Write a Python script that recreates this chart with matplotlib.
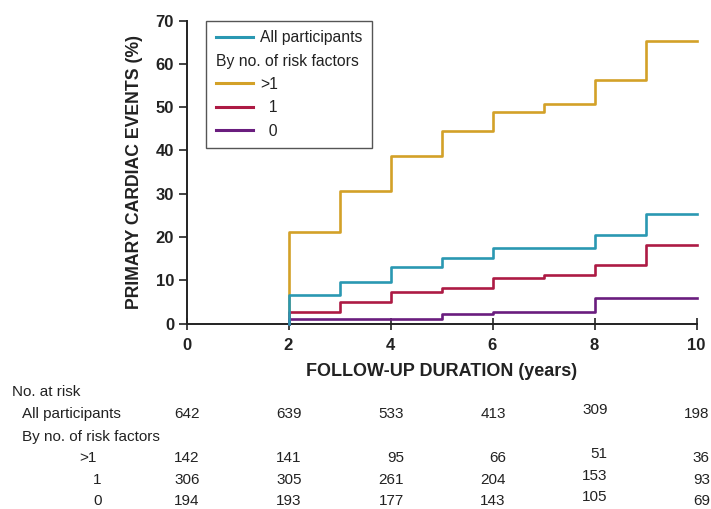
#!/usr/bin/env python
import matplotlib
matplotlib.use('Agg')
import matplotlib.pyplot as plt
from matplotlib.lines import Line2D
from matplotlib.transforms import blended_transform_factory

plt.rcParams['font.family'] = ['Liberation Sans', 'DejaVu Sans']

## Cumulative event curves (%), step at each year from 2 to 10
years = [2, 3, 4, 5, 6, 7, 8, 9, 10]
all_pct = [6.6, 9.5, 13.1, 15.2, 17.5, 17.5, 20.4, 25.3, 25.3]
gt1_pct = [21.2, 30.6, 38.7, 44.4, 48.8, 50.8, 56.2, 65.2, 65.2]
one_pct = [2.7, 5.0, 7.2, 8.2, 10.4, 11.3, 13.5, 18.2, 18.2]
zero_pct = [1.0, 1.0, 1.0, 2.2, 2.6, 2.6, 5.8, 5.8, 5.8]

## Numbers at risk table
risk_times = [0, 2, 4, 6, 8, 10]
risk_all = [642, 639, 533, 413, 309, 198]
risk_gt1 = [142, 141, 95, 66, 51, 36]
risk_one = [306, 305, 261, 204, 153, 93]
risk_zero = [194, 193, 177, 143, 105, 69]

c_all = '#2a98b2'
c_gt1 = '#d3a128'
c_one = '#ad1a44'
c_zero = '#6a1d7e'

W, H = 711, 509
fig = plt.figure(figsize=(W / 100, H / 100), dpi=100)
ax = fig.add_axes([186.5 / W, (H - 323.5) / H, 510 / W, 303 / H])


def curve(y):
    return [years[0]] + years, [0] + y


lw = 1.9
for y, c in [(gt1_pct, c_gt1), (one_pct, c_one), (zero_pct, c_zero), (all_pct, c_all)]:
    xs, ys = curve(y)
    ax.step(xs, ys, where='post', color=c, lw=lw, clip_on=False, zorder=3)

ax.set_xlim(0, 10)
ax.set_ylim(0, 70)
ax.set_xticks(range(0, 11, 2))
ax.set_yticks(range(0, 71, 10))
for s in ['top', 'right']:
    ax.spines[s].set_visible(False)
for s in ['left', 'bottom']:
    ax.spines[s].set_linewidth(1.4)
    ax.spines[s].set_color('#222222')
ax.tick_params(axis='y', direction='out', length=6, width=1.2, pad=3,
               labelsize=12, colors='#222222')
ax.tick_params(axis='x', direction='inout', length=9, width=1.2, pad=6,
               labelsize=12, colors='#222222')
for lab in ax.get_xticklabels() + ax.get_yticklabels():
    lab.set_fontweight('bold')

ax.set_ylabel('PRIMARY CARDIAC EVENTS (%)', fontsize=12.7, fontweight='bold',
              color='#222222')
ax.yaxis.set_label_coords(-0.0853, 0.5)
ax.set_xlabel('FOLLOW-UP DURATION (years)', fontsize=13, fontweight='bold',
              color='#222222')
ax.xaxis.set_label_coords(0.5, -0.132)

## Legend with a header row without handle
handles = [Line2D([], [], color=c_all, lw=2.2),
           Line2D([], [], color='none', lw=0),
           Line2D([], [], color=c_gt1, lw=2.2),
           Line2D([], [], color=c_one, lw=2.2),
           Line2D([], [], color=c_zero, lw=2.2)]
labels = ['All participants', 'By no. of risk factors', '>1', '  1', '  0']
leg = ax.legend(handles, labels, loc='upper left', bbox_to_anchor=(0.038, 1.0),
                borderaxespad=0, fancybox=False, framealpha=1, edgecolor='#555555',
                fontsize=11.3, handlelength=2.4, handletextpad=0.45,
                labelspacing=0.53, borderpad=0.62)
leg.get_frame().set_linewidth(1.0)
for t in leg.get_texts():
    t.set_color('#222222')
# move header text to the handle column
hp = leg._legend_handle_box.get_children()[0].get_children()[1]
hp.get_children()[0].width = 0
hp.sep = 0

## Numbers at risk
tfs = 11
tc = '#222222'
def fy(py):
    return (H - py) / H

fig.text(12 / W, fy(392), 'No. at risk', fontsize=tfs, color=tc, va='center')
fig.text(22 / W, fy(414), 'All participants', fontsize=tfs, color=tc, va='center')
fig.text(22 / W, fy(436.5), 'By no. of risk factors', fontsize=tfs, color=tc, va='center')
fig.text(97 / W, fy(457.5), '>1', fontsize=tfs, color=tc, va='center', ha='right')
fig.text(101 / W, fy(479.5), '1', fontsize=tfs, color=tc, va='center', ha='right')
fig.text(102 / W, fy(501), '0', fontsize=tfs, color=tc, va='center', ha='right')

tr = blended_transform_factory(ax.transData, fig.transFigure)
for row, py in [(risk_all, 414), (risk_gt1, 457.5), (risk_one, 479.5), (risk_zero, 501)]:
    for t, n in zip(risk_times, row):
        dy = -4 if t == 8 else 0
        ax.text(t + 0.26, fy(py + dy), str(n), transform=tr, fontsize=tfs,
                color=tc, va='center', ha='right')

fig.savefig('out.png', dpi=100)
